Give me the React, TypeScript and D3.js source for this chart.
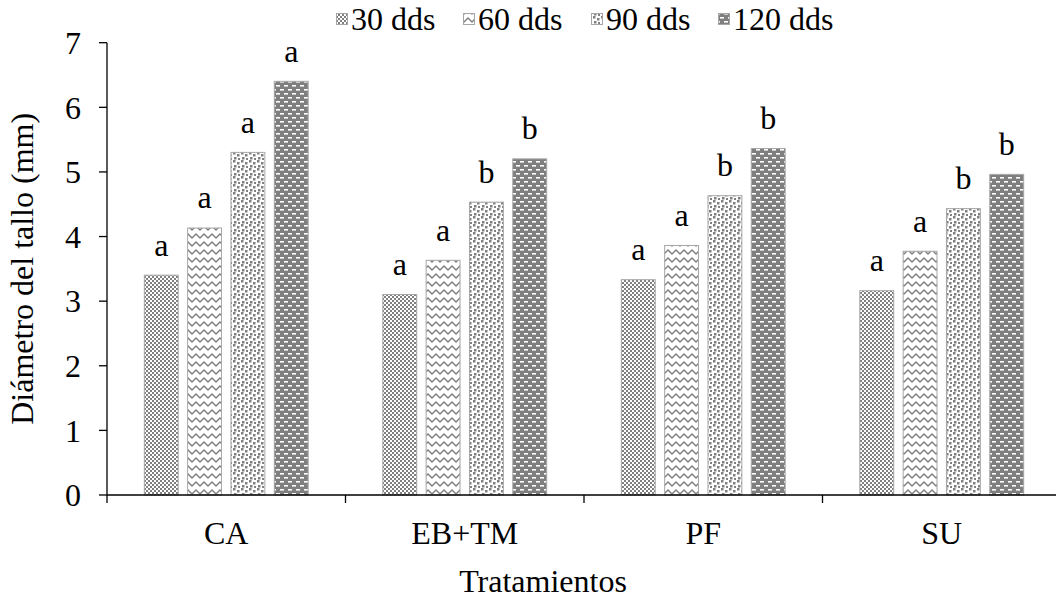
import React from 'react';
import * as d3 from 'd3';

const categories = ['CA', 'EB+TM', 'PF', 'SU'];
const series = ['30 dds', '60 dds', '90 dds', '120 dds'];
const values30 = [3.41, 3.11, 3.34, 3.17];
const values60 = [4.14, 3.64, 3.87, 3.78];
const values90 = [5.31, 4.54, 4.64, 4.44];
const values120 = [6.41, 5.21, 5.37, 4.97];
const letters30 = ['a', 'a', 'a', 'a'];
const letters60 = ['a', 'a', 'a', 'a'];
const letters90 = ['a', 'b', 'b', 'b'];
const letters120 = ['a', 'b', 'b', 'b'];
const yTicks = [0, 1, 2, 3, 4, 5, 6, 7];

const seriesValues = [values30, values60, values90, values120];
const seriesLetters = [letters30, letters60, letters90, letters120];
const patternIds = ['p30', 'p60', 'p90', 'p120'];

const FONT = "'Liberation Serif', 'Times New Roman', serif";
const GRAY = '#7f7f7f';

export default function App() {
  const width = 1056;
  const height = 601;
  const x0 = 107;
  const y0 = 495;
  const yTop = 42.7;
  const y = d3.scaleLinear().domain([0, 7]).range([y0, yTop]);
  const x = d3.scaleBand<string>().domain(categories).range([x0, x0 + 4 * 238.5]).padding(0);
  const x1 = d3
    .scaleBand<string>()
    .domain(series)
    .range([0, x.bandwidth()])
    .paddingInner(0.195)
    .paddingOuter(0.85);

  const fontSize = 32;
  const ts = { fontFamily: FONT, fontSize };

  const legendItems = [
    { sx: 336, tx: 351 },
    { sx: 463, tx: 478 },
    { sx: 591, tx: 606 },
    { sx: 718, tx: 733 },
  ];

  return (
    <svg
      width={width}
      height={height}
      style={{ position: 'fixed', left: 0, top: 0, background: '#fff', fontFamily: FONT }}
    >
      <defs>
        <pattern id="p30" patternUnits="userSpaceOnUse" width={4} height={4}>
          <rect width={4} height={4} fill="#fff" />
          <rect x={0} y={0} width={2} height={2} fill={GRAY} />
          <rect x={2} y={2} width={2} height={2} fill={GRAY} />
        </pattern>
        <pattern id="p60" patternUnits="userSpaceOnUse" width={8} height={8}>
          <rect width={8} height={8} fill="#fff" />
          <path d="M-1,7 L4,2 L9,7" fill="none" stroke={GRAY} strokeWidth={1.4} />
        </pattern>
        <pattern id="p90" patternUnits="userSpaceOnUse" width={8} height={8}>
          <rect width={8} height={8} fill="#fff" />
          <rect x={1} y={0} width={2.5} height={2.5} fill={GRAY} />
          <rect x={5} y={2} width={2.5} height={2.5} fill={GRAY} />
          <rect x={2} y={5} width={2.5} height={2.5} fill={GRAY} />
          <rect x={6} y={6} width={2} height={2} fill={GRAY} />
        </pattern>
        <pattern id="p120" patternUnits="userSpaceOnUse" width={8} height={8}>
          <rect width={8} height={8} fill={GRAY} />
          <rect x={0} y={1} width={4} height={1.6} fill="#fff" />
          <rect x={4} y={5} width={4} height={1.6} fill="#fff" />
        </pattern>
      </defs>

      {categories.map((c, ci) =>
        series.map((s, si) => {
          const v = seriesValues[si][ci];
          const bx = (x(c) as number) + (x1(s) as number);
          const bw = x1.bandwidth();
          const by = y(v);
          return (
            <g key={c + s}>
              <rect
                x={bx + 0.5}
                y={by + 0.5}
                width={bw - 1}
                height={y0 - by - 0.5}
                fill={`url(#${patternIds[si]})`}
                stroke="#a6a6a6"
                strokeWidth={1}
              />
              <text x={bx + bw / 2} y={by - 19} textAnchor="middle" style={ts} fill="#000">
                {seriesLetters[si][ci]}
              </text>
            </g>
          );
        })
      )}

      <line x1={x0} x2={x0} y1={yTop} y2={y0} stroke="#000" strokeWidth={1.3} />
      {yTicks.map((t) => (
        <g key={t}>
          <line x1={x0 - 8} x2={x0} y1={y(t)} y2={y(t)} stroke="#000" strokeWidth={1.3} />
          <text x={x0 - 26} y={y(t)} dy="0.35em" textAnchor="end" style={ts} fill="#000">
            {t}
          </text>
        </g>
      ))}

      <line x1={x0} x2={x0 + 4 * 238.5} y1={y0} y2={y0} stroke="#000" strokeWidth={1.3} />
      {categories.concat(['end']).map((c, i) => {
        const tx = x0 + i * x.step();
        return <line key={'t' + i} x1={tx} x2={tx} y1={y0} y2={y0 + 8} stroke="#000" strokeWidth={1.3} />;
      })}
      {categories.map((c) => (
        <text
          key={'l' + c}
          x={(x(c) as number) + x.bandwidth() / 2}
          y={544}
          textAnchor="middle"
          style={ts}
          fill="#000"
        >
          {c}
        </text>
      ))}

      <text x={543} y={592} textAnchor="middle" style={ts} fill="#000">
        Tratamientos
      </text>
      <text
        transform={`translate(33, ${(yTop + y0) / 2}) rotate(-90)`}
        textAnchor="middle"
        style={ts}
        fill="#000"
      >
        Diámetro del tallo (mm)
      </text>

      {series.map((s, i) => (
        <g key={'lg' + s}>
          <rect
            x={legendItems[i].sx + 0.5}
            y={13.5}
            width={11}
            height={11}
            fill={`url(#${patternIds[i]})`}
            stroke="#a6a6a6"
            strokeWidth={1}
          />
          <text x={legendItems[i].tx} y={30} style={ts} fill="#000">
            {s}
          </text>
        </g>
      ))}
    </svg>
  );
}
